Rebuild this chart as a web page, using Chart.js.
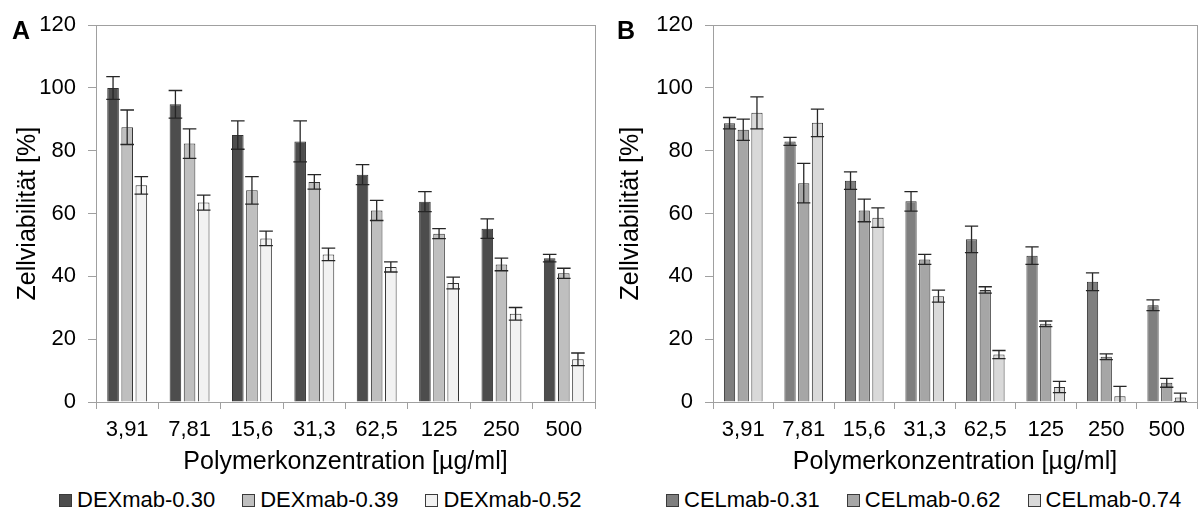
<!DOCTYPE html>
<html>
<head>
<meta charset="utf-8">
<script src="https://cdn.jsdelivr.net/npm/chart.js@4.4.1/dist/chart.umd.min.js"></script>
<style>
    body { margin: 0; background: #fff; font-family: 'Liberation Sans', Arial, sans-serif; color: #000; }
    canvas { position: absolute; top: 0; }
    #chartA { left: 0; }
    #chartB { left: 600px; }
    .panel-letter { position: absolute; top: 18px; font-size: 25px; font-weight: bold; line-height: 1; }
    .legend { position: absolute; top: 489px; display: flex; gap: 27px; font-size: 22px; line-height: 1; }
    .legend-item { display: flex; align-items: center; }
    .legend-box { width: 11px; height: 11px; border: 1px solid #3a3a3a; margin-right: 5px; }
</style>
</head>
<body>
<canvas id="chartA" width="600" height="480"></canvas>
<canvas id="chartB" width="599" height="480"></canvas>
<div class="panel-letter" style="left: 12px;">A</div>
<div class="panel-letter" style="left: 617px;">B</div>
<div class="legend" id="legendA" style="left: 59px;"></div>
<div class="legend" id="legendB" style="left: 666px;"></div>

<script>
// x categories (polymer concentration in µg/ml) and y ticks
const concentrations = ['3,91', '7,81', '15,6', '31,3', '62,5', '125', '250', '500'];
const yTicks = [0, 20, 40, 60, 80, 100, 120];

// Panel A - DEXmab
const dexNames = ['DEXmab-0.30', 'DEXmab-0.39', 'DEXmab-0.52'];
const dex030 = [100, 94.8, 85, 83, 72.4, 63.8, 55.2, 45.8];
const dex030Err = [3.6, 4.4, 4.5, 6.5, 3.2, 3.2, 3.1, 1.2];
const dex039 = [87.5, 82.3, 67.4, 70.1, 61, 53.6, 43.8, 41];
const dex039Err = [5.5, 4.7, 4.4, 2.3, 3.2, 1.6, 2, 1.6];
const dex052 = [69, 63.5, 52.1, 47, 43, 37.9, 28.1, 13.6];
const dex052Err = [2.8, 2.4, 2.3, 2, 1.6, 1.9, 2, 2];

// Panel B - CELmab
const celNames = ['CELmab-0.31', 'CELmab-0.62', 'CELmab-0.74'];
const cel031 = [88.8, 83, 70.5, 63.9, 51.8, 46.6, 38.3, 30.8];
const cel031Err = [1.8, 1.3, 2.8, 3.1, 4.2, 2.8, 2.8, 1.7];
const cel062 = [86.7, 69.7, 61, 45.4, 35.7, 24.9, 14.4, 6.1];
const cel062Err = [3.4, 6.3, 3.6, 1.6, 1, 0.9, 0.9, 1.4];
const cel074 = [92.1, 88.9, 58.7, 33.7, 15.1, 4.8, 1.8, 1.4];
const cel074Err = [5.1, 4.4, 3.1, 1.9, 1.3, 1.8, 3.2, 1.4];

const xTitle = 'Polymerkonzentration [µg/ml]';
const yTitle = 'Zellviabilität [%]';

const dexColors = ['#4d4d4d', '#bfbfbf', '#f2f2f2'];
const celColors = ['#7f7f7f', '#a6a6a6', '#d9d9d9'];
const axisGray = '#a0a0a0';

Chart.defaults.font.family = "'Liberation Sans', Arial, sans-serif";
Chart.defaults.color = '#000';

// draws the +/- error bars on top of each bar
const errorBars = {
    id: 'errorBars',
    afterDatasetsDraw(chart) {
        const ctx = chart.ctx;
        const yScale = chart.scales.y;
        const area = chart.chartArea;
        ctx.save();
        ctx.beginPath();
        ctx.rect(area.left, area.top, area.right - area.left, area.bottom - area.top);
        ctx.clip();
        ctx.strokeStyle = '#262626';
        ctx.lineWidth = 1.3;
        chart.data.datasets.forEach((ds, i) => {
            const meta = chart.getDatasetMeta(i);
            meta.data.forEach((bar, j) => {
                const v = ds.data[j];
                const e = ds.errors[j];
                const top = yScale.getPixelForValue(v + e);
                const bottom = yScale.getPixelForValue(v - e);
                const half = bar.width / 2 + 1;
                ctx.beginPath();
                ctx.moveTo(bar.x, top);
                ctx.lineTo(bar.x, bottom);
                ctx.moveTo(bar.x - half, top);
                ctx.lineTo(bar.x + half, top);
                ctx.moveTo(bar.x - half, bottom);
                ctx.lineTo(bar.x + half, bottom);
                ctx.stroke();
            });
        });
        ctx.restore();
    }
};

function makeDatasets(names, values, errors, colors) {
    return names.map((name, i) => ({
        label: name,
        data: values[i],
        errors: errors[i],
        backgroundColor: colors[i],
        borderColor: '#333333',
        borderWidth: 1,
        categoryPercentage: 0.68,
        barPercentage: 0.82
    }));
}

function makeOptions(yAxisWidth, yTitlePad, rightPad) {
    return {
        responsive: false,
        animation: false,
        layout: { padding: { top: 22, right: rightPad, left: 0, bottom: 0 } },
        plugins: {
            legend: { display: false },
            tooltip: { enabled: false }
        },
        scales: {
            x: {
                grid: { offset: true, drawOnChartArea: false, tickLength: 7, tickColor: axisGray },
                border: { color: axisGray },
                ticks: { font: { size: 22 }, padding: 8, maxRotation: 0, autoSkip: false },
                title: { display: true, text: xTitle, font: { size: 25 }, padding: { top: 0, bottom: 3 } },
                afterFit: scale => { scale.height = 78; }
            },
            y: {
                min: yTicks[0],
                max: yTicks[yTicks.length - 1],
                ticks: { stepSize: yTicks[1] - yTicks[0], font: { size: 22 }, padding: 12 },
                grid: {
                    color: ctx => (ctx.tick && ctx.tick.value === yTicks[yTicks.length - 1]) ? axisGray : 'rgba(0,0,0,0)',
                    tickLength: 8,
                    tickColor: axisGray
                },
                border: { color: axisGray },
                title: { display: true, text: yTitle, font: { size: 25 }, padding: { top: yTitlePad, bottom: 0 } },
                afterFit: scale => { scale.width = yAxisWidth; }
            },
            frame: {
                type: 'linear',
                position: 'right',
                ticks: { display: false },
                grid: { display: false },
                border: { color: axisGray },
                afterFit: scale => { scale.width = 0; }
            }
        }
    };
}

function buildLegend(id, names, colors) {
    const el = document.getElementById(id);
    names.forEach((name, i) => {
        el.insertAdjacentHTML('beforeend', `
            <div class="legend-item">
                <span class="legend-box" style="background:${colors[i]}"></span>
                <span>${name}</span>
            </div>`);
    });
}

new Chart(document.getElementById('chartA'), {
    type: 'bar',
    data: {
        labels: concentrations,
        datasets: makeDatasets(dexNames, [dex030, dex039, dex052], [dex030Err, dex039Err, dex052Err], dexColors)
    },
    options: makeOptions(96, 13, 5),
    plugins: [errorBars]
});

new Chart(document.getElementById('chartB'), {
    type: 'bar',
    data: {
        labels: concentrations,
        datasets: makeDatasets(celNames, [cel031, cel062, cel074], [cel031Err, cel062Err, cel074Err], celColors)
    },
    options: makeOptions(113, 16, 2),
    plugins: [errorBars]
});

buildLegend('legendA', dexNames, dexColors);
buildLegend('legendB', celNames, celColors);
</script>
</body>
</html>
